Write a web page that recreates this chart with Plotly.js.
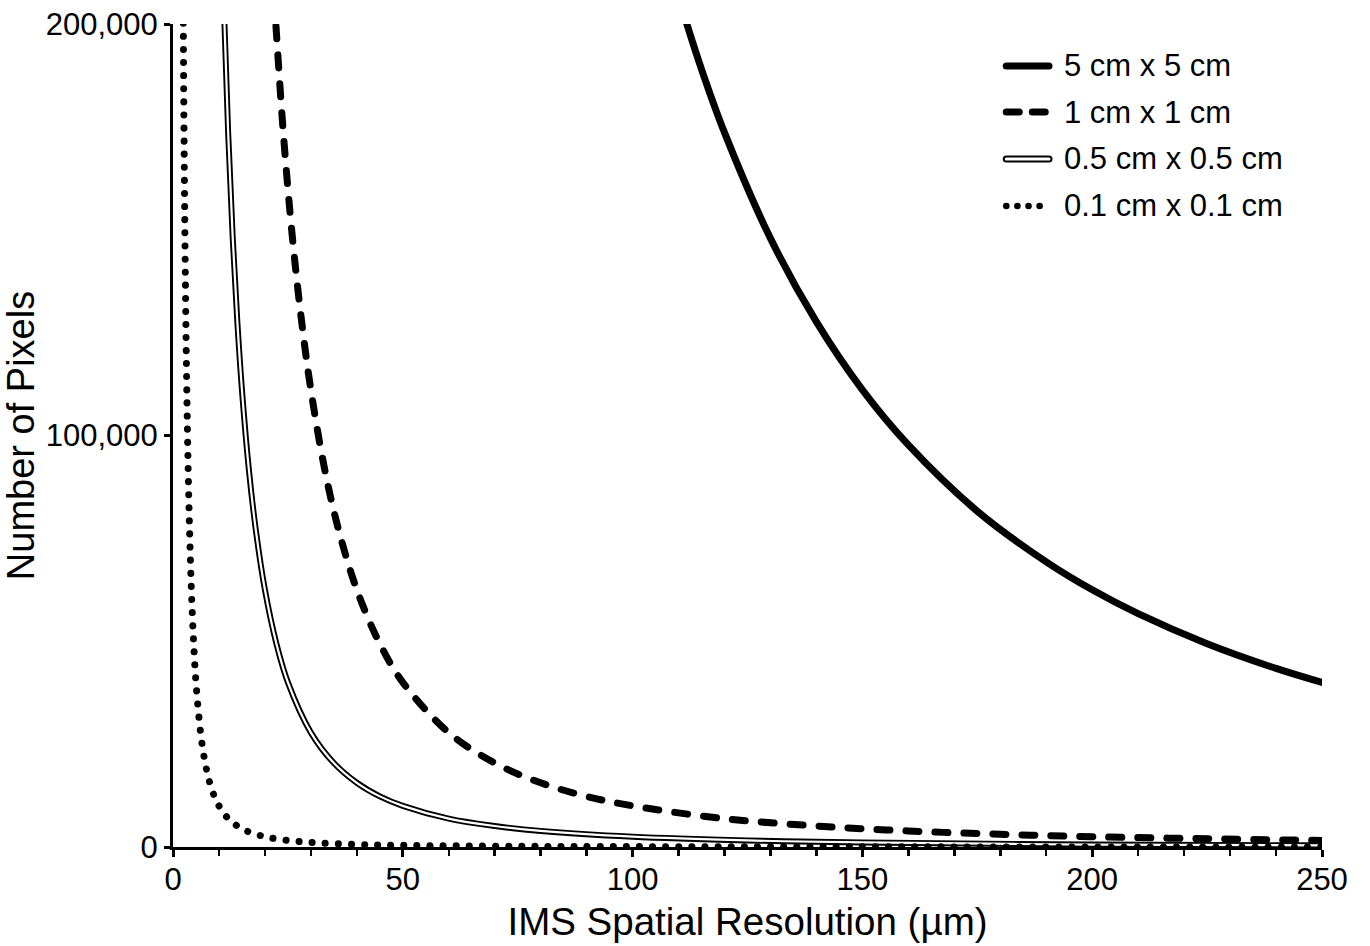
<!DOCTYPE html>
<html>
<head>
<meta charset="utf-8">
<script src="https://cdn.plot.ly/plotly-3.0.1.min.js"></script>
<style>
  html, body { margin: 0; padding: 0; background: #fff; }
  #chart { width: 1370px; height: 946px; }
  .scatterlayer path.js-line, .shapelayer path { stroke-linecap: round; }
</style>
</head>
<body>
<div id="chart"></div>
<script>
// Series names (legend labels)
const seriesNames = ["5 cm x 5 cm", "1 cm x 1 cm", "0.5 cm x 0.5 cm", "0.1 cm x 0.1 cm"];

// IMS spatial resolution (µm) and number of pixels
const res5cm = [110, 112, 115, 120, 130, 140, 150, 160, 175, 190, 200, 210, 225, 240, 250];
const pix5cm = [206600, 199300, 189000, 173600, 147900, 127600, 111100, 97700, 81600, 69300, 62500, 56700, 49400, 43400, 40000];

const res1cm = [22, 24, 26, 28, 30, 33, 36, 40, 45, 50, 60, 70, 80, 90, 100, 120, 140, 160, 180, 200, 225, 250];
const pix1cm = [206600, 173600, 147900, 127600, 111100, 91800, 77200, 62500, 49400, 40000, 27800, 20400, 15600, 12300, 10000, 6900, 5100, 3900, 3100, 2500, 2000, 1600];

const res05cm = [11, 12, 13, 14, 15, 16.5, 18, 20, 22.5, 25, 30, 35, 40, 45, 50, 60, 70, 80, 100, 125, 150, 200, 250];
const pix05cm = [206600, 173600, 147900, 127600, 111100, 91800, 77200, 62500, 49400, 40000, 27800, 20400, 15600, 12300, 10000, 6900, 5100, 3900, 2500, 1600, 1100, 600, 400];

const res01cm = [2.2, 2.4, 2.6, 2.8, 3, 3.3, 3.6, 4, 4.5, 5, 6, 7, 8, 9, 10, 12, 14, 16, 20, 25, 30, 40, 50, 75, 100, 150, 200, 250];
const pix01cm = [206600, 173600, 147900, 127600, 111100, 91800, 77200, 62500, 49400, 40000, 27800, 20400, 15600, 12300, 10000, 6900, 5100, 3900, 2500, 1600, 1100, 600, 400, 180, 100, 40, 25, 16];

// Axis ticks
const xTickVals = [0, 50, 100, 150, 200, 250];
const yTickVals = [0, 100000, 200000];
const yTickText = ["0", "100,000", "200,000"];

const FONT = "Liberation Sans, Arial, Helvetica, sans-serif";

const traces = [
  { x: res5cm, y: pix5cm, name: seriesNames[0], mode: "lines",
    line: { color: "#000", width: 7, shape: "spline" } },
  { x: res1cm, y: pix1cm, name: seriesNames[1], mode: "lines",
    line: { color: "#000", width: 7, dash: "13px,16px", shape: "spline" } },
  { x: res05cm, y: pix05cm, name: seriesNames[2], mode: "lines",
    line: { color: "#000", width: 6, shape: "spline" } },
  { x: res05cm, y: pix05cm, name: seriesNames[2] + " (inner)", mode: "lines",
    line: { color: "#fff", width: 2.2, shape: "spline" } },
  { x: res01cm, y: pix01cm, name: seriesNames[3], mode: "lines",
    line: { color: "#000", width: 7, dash: "0.1px,13px", shape: "spline" } }
];

// Custom legend (reproduces the double-line symbol)
const legX0 = 0.7252, legX1 = 0.7624, legTextX = 0.7738;
const legY = [0.949, 0.893, 0.836, 0.779];
const legStyles = [
  [{ color: "#000", width: 7 }],
  [{ color: "#000", width: 7, dash: "13px,13px" }],
  [{ color: "#000", width: 7 }, { color: "#fff", width: 3 }],
  [{ color: "#000", width: 6.5, dash: "0.1px,11px" }]
];
const shapes = [];
const annotations = [];
seriesNames.forEach((nm, i) => {
  legStyles[i].forEach(st => {
    shapes.push({ type: "line", xref: "paper", yref: "paper",
      x0: legX0, x1: legX1, y0: legY[i], y1: legY[i], line: st });
  });
  annotations.push({ xref: "paper", yref: "paper", x: legTextX, y: legY[i],
    xanchor: "left", yanchor: "middle", showarrow: false, text: nm,
    font: { family: FONT, size: 31, color: "#000" } });
});

const layout = {
  width: 1370, height: 946,
  margin: { l: 173, r: 48, t: 24, b: 99 },
  paper_bgcolor: "#fff", plot_bgcolor: "#fff",
  showlegend: false,
  font: { family: FONT, color: "#000" },
  xaxis: {
    range: [0, 250], showgrid: false, zeroline: false,
    showline: true, linecolor: "#000", linewidth: 3,
    ticks: "outside", ticklen: 7, tickwidth: 3, tickcolor: "#000",
    tickvals: xTickVals, tickfont: { family: FONT, size: 31, color: "#000" },
    ticklabelstandoff: -4,
    minor: { dtick: 10, ticks: "outside", ticklen: 6, tickwidth: 2.5, tickcolor: "#000", showgrid: false },
    title: { text: "IMS Spatial Resolution (µm)", font: { family: FONT, size: 38.5, color: "#000" }, standoff: 12 },
    automargin: false
  },
  yaxis: {
    range: [0, 200000], showgrid: false, zeroline: false,
    showline: true, linecolor: "#000", linewidth: 3,
    ticks: "outside", ticklen: 6, tickwidth: 3, tickcolor: "#000",
    tickvals: yTickVals, ticktext: yTickText,
    tickfont: { family: FONT, size: 31, color: "#000" },
    title: { text: "Number of Pixels", font: { family: FONT, size: 38, color: "#000" }, standoff: 14 },
    automargin: false
  },
  shapes: shapes,
  annotations: annotations
};

Plotly.newPlot("chart", traces, layout, { displayModeBar: false, staticPlot: true });
</script>
</body>
</html>
